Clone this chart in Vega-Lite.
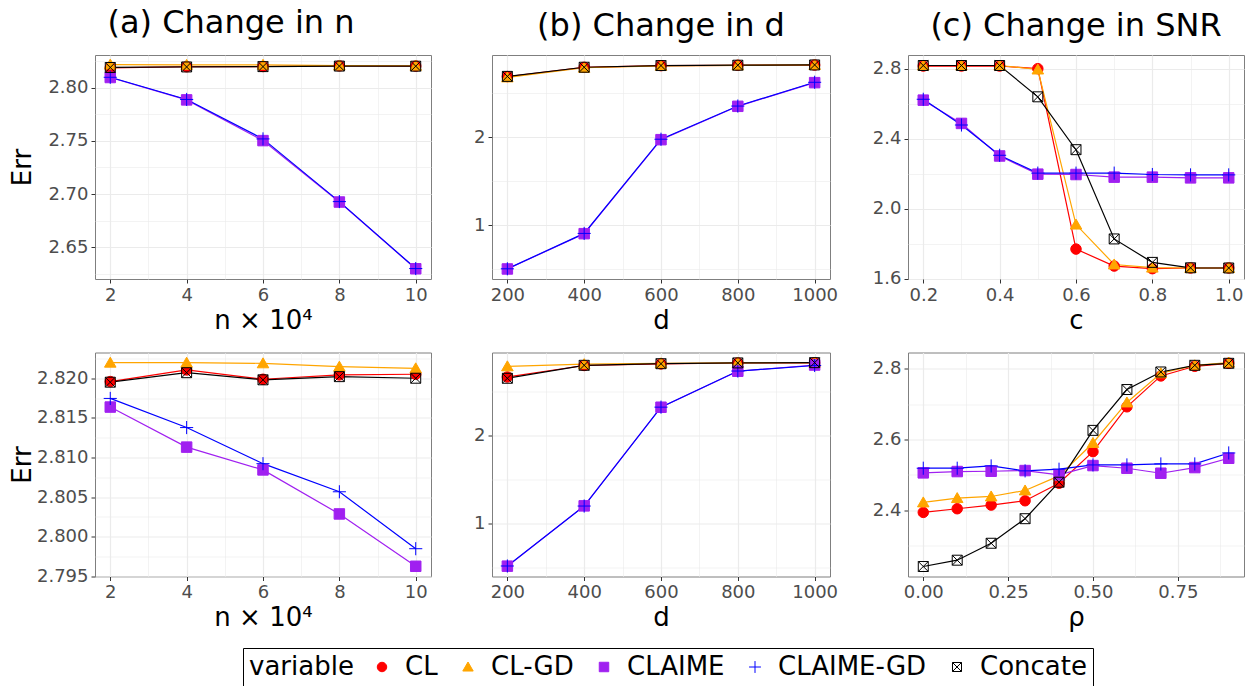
{
  "$schema": "https://vega.github.io/schema/vega-lite/v6.json",
  "background": "white",
  "padding": {"left": 8, "top": 6, "right": 0, "bottom": 0},
  "config": {
    "font": "DejaVu Sans",
    "view": {"stroke": "#7F7F7F", "strokeWidth": 1},
    "axis": {"labelFont": "DejaVu Sans", "labelFontSize": 18, "labelColor": "#4D4D4D", "tickColor": "#333333", "tickSize": 4, "tickWidth": 1, "labelPadding": 3, "domain": false, "gridColor": "#EBEBEB", "titleFont": "DejaVu Sans", "titleFontSize": 26, "titleFontWeight": "normal", "titleColor": "#000000", "labelOverlap": false, "labelFlush": false},
    "title": {"font": "DejaVu Sans", "fontSize": 32, "fontWeight": "normal", "color": "#000000", "baseline": "alphabetic", "offset": 12, "anchor": "middle"},
    "legend": {"titleFont": "DejaVu Sans", "labelFont": "DejaVu Sans", "titleFontSize": 26, "labelFontSize": 26, "titleFontWeight": "normal", "titleColor": "#000000", "labelColor": "#000000", "strokeColor": "#000000", "padding": 6, "symbolSize": 90, "symbolStrokeWidth": 1, "columnPadding": 17, "labelOffset": 10, "titlePadding": 15}
  },
  "datasets": {
    "a1": [
      {"x": 2, "Err": 2.8185, "variable": "CL"}, {"x": 4, "Err": 2.8195, "variable": "CL"}, {"x": 6, "Err": 2.8197, "variable": "CL"}, {"x": 8, "Err": 2.8203, "variable": "CL"}, {"x": 10, "Err": 2.8201, "variable": "CL"},
      {"x": 2, "Err": 2.8215, "variable": "CL-GD"}, {"x": 4, "Err": 2.8212, "variable": "CL-GD"}, {"x": 6, "Err": 2.8213, "variable": "CL-GD"}, {"x": 8, "Err": 2.8206, "variable": "CL-GD"}, {"x": 10, "Err": 2.8204, "variable": "CL-GD"},
      {"x": 2, "Err": 2.8094, "variable": "CLAIME"}, {"x": 4, "Err": 2.7884, "variable": "CLAIME"}, {"x": 6, "Err": 2.7502, "variable": "CLAIME"}, {"x": 8, "Err": 2.6926, "variable": "CLAIME"}, {"x": 10, "Err": 2.6300, "variable": "CLAIME"},
      {"x": 2, "Err": 2.8096, "variable": "CLAIME-GD"}, {"x": 4, "Err": 2.7888, "variable": "CLAIME-GD"}, {"x": 6, "Err": 2.7518, "variable": "CLAIME-GD"}, {"x": 8, "Err": 2.6930, "variable": "CLAIME-GD"}, {"x": 10, "Err": 2.6302, "variable": "CLAIME-GD"},
      {"x": 2, "Err": 2.8188, "variable": "Concate"}, {"x": 4, "Err": 2.8193, "variable": "Concate"}, {"x": 6, "Err": 2.8196, "variable": "Concate"}, {"x": 8, "Err": 2.8201, "variable": "Concate"}, {"x": 10, "Err": 2.8200, "variable": "Concate"}
    ],
    "a2": [
      {"x": 2, "Err": 2.81958, "variable": "CL"}, {"x": 4, "Err": 2.82105, "variable": "CL"}, {"x": 6, "Err": 2.81987, "variable": "CL"}, {"x": 8, "Err": 2.82042, "variable": "CL"}, {"x": 10, "Err": 2.82050, "variable": "CL"},
      {"x": 2, "Err": 2.82196, "variable": "CL-GD"}, {"x": 4, "Err": 2.82196, "variable": "CL-GD"}, {"x": 6, "Err": 2.82188, "variable": "CL-GD"}, {"x": 8, "Err": 2.82146, "variable": "CL-GD"}, {"x": 10, "Err": 2.82125, "variable": "CL-GD"},
      {"x": 2, "Err": 2.81636, "variable": "CLAIME"}, {"x": 4, "Err": 2.81130, "variable": "CLAIME"}, {"x": 6, "Err": 2.80842, "variable": "CLAIME"}, {"x": 8, "Err": 2.80286, "variable": "CLAIME"}, {"x": 10, "Err": 2.79625, "variable": "CLAIME"},
      {"x": 2, "Err": 2.81745, "variable": "CLAIME-GD"}, {"x": 4, "Err": 2.81377, "variable": "CLAIME-GD"}, {"x": 6, "Err": 2.80921, "variable": "CLAIME-GD"}, {"x": 8, "Err": 2.80566, "variable": "CLAIME-GD"}, {"x": 10, "Err": 2.79847, "variable": "CLAIME-GD"},
      {"x": 2, "Err": 2.81950, "variable": "Concate"}, {"x": 4, "Err": 2.82070, "variable": "Concate"}, {"x": 6, "Err": 2.81980, "variable": "Concate"}, {"x": 8, "Err": 2.82020, "variable": "Concate"}, {"x": 10, "Err": 2.82000, "variable": "Concate"}
    ],
    "b1": [
      {"x": 200, "Err": 2.690, "variable": "CL"}, {"x": 400, "Err": 2.795, "variable": "CL"}, {"x": 600, "Err": 2.814, "variable": "CL"}, {"x": 800, "Err": 2.818, "variable": "CL"}, {"x": 1000, "Err": 2.821, "variable": "CL"},
      {"x": 200, "Err": 2.680, "variable": "CL-GD"}, {"x": 400, "Err": 2.790, "variable": "CL-GD"}, {"x": 600, "Err": 2.812, "variable": "CL-GD"}, {"x": 800, "Err": 2.818, "variable": "CL-GD"}, {"x": 1000, "Err": 2.822, "variable": "CL-GD"},
      {"x": 200, "Err": 0.504, "variable": "CLAIME"}, {"x": 400, "Err": 0.905, "variable": "CLAIME"}, {"x": 600, "Err": 1.973, "variable": "CLAIME"}, {"x": 800, "Err": 2.352, "variable": "CLAIME"}, {"x": 1000, "Err": 2.621, "variable": "CLAIME"},
      {"x": 200, "Err": 0.506, "variable": "CLAIME-GD"}, {"x": 400, "Err": 0.908, "variable": "CLAIME-GD"}, {"x": 600, "Err": 1.978, "variable": "CLAIME-GD"}, {"x": 800, "Err": 2.355, "variable": "CLAIME-GD"}, {"x": 1000, "Err": 2.625, "variable": "CLAIME-GD"},
      {"x": 200, "Err": 2.692, "variable": "Concate"}, {"x": 400, "Err": 2.796, "variable": "Concate"}, {"x": 600, "Err": 2.815, "variable": "Concate"}, {"x": 800, "Err": 2.819, "variable": "Concate"}, {"x": 1000, "Err": 2.822, "variable": "Concate"}
    ],
    "b2": [
      {"x": 200, "Err": 2.660, "variable": "CL"}, {"x": 400, "Err": 2.790, "variable": "CL"}, {"x": 600, "Err": 2.808, "variable": "CL"}, {"x": 800, "Err": 2.818, "variable": "CL"}, {"x": 1000, "Err": 2.820, "variable": "CL"},
      {"x": 200, "Err": 2.780, "variable": "CL-GD"}, {"x": 400, "Err": 2.805, "variable": "CL-GD"}, {"x": 600, "Err": 2.815, "variable": "CL-GD"}, {"x": 800, "Err": 2.820, "variable": "CL-GD"}, {"x": 1000, "Err": 2.822, "variable": "CL-GD"},
      {"x": 200, "Err": 0.517, "variable": "CLAIME"}, {"x": 400, "Err": 1.200, "variable": "CLAIME"}, {"x": 600, "Err": 2.317, "variable": "CLAIME"}, {"x": 800, "Err": 2.725, "variable": "CLAIME"}, {"x": 1000, "Err": 2.795, "variable": "CLAIME"},
      {"x": 200, "Err": 0.519, "variable": "CLAIME-GD"}, {"x": 400, "Err": 1.198, "variable": "CLAIME-GD"}, {"x": 600, "Err": 2.318, "variable": "CLAIME-GD"}, {"x": 800, "Err": 2.727, "variable": "CLAIME-GD"}, {"x": 1000, "Err": 2.790, "variable": "CLAIME-GD"},
      {"x": 200, "Err": 2.645, "variable": "Concate"}, {"x": 400, "Err": 2.792, "variable": "Concate"}, {"x": 600, "Err": 2.810, "variable": "Concate"}, {"x": 800, "Err": 2.819, "variable": "Concate"}, {"x": 1000, "Err": 2.822, "variable": "Concate"}
    ],
    "c1": [
      {"x": 0.2, "Err": 2.815, "variable": "CL"}, {"x": 0.3, "Err": 2.815, "variable": "CL"}, {"x": 0.4, "Err": 2.815, "variable": "CL"}, {"x": 0.5, "Err": 2.800, "variable": "CL"}, {"x": 0.6, "Err": 1.769, "variable": "CL"}, {"x": 0.7, "Err": 1.672, "variable": "CL"}, {"x": 0.8, "Err": 1.657, "variable": "CL"}, {"x": 0.9, "Err": 1.661, "variable": "CL"}, {"x": 1.0, "Err": 1.661, "variable": "CL"},
      {"x": 0.2, "Err": 2.818, "variable": "CL-GD"}, {"x": 0.3, "Err": 2.818, "variable": "CL-GD"}, {"x": 0.4, "Err": 2.818, "variable": "CL-GD"}, {"x": 0.5, "Err": 2.795, "variable": "CL-GD"}, {"x": 0.6, "Err": 1.909, "variable": "CL-GD"}, {"x": 0.7, "Err": 1.681, "variable": "CL-GD"}, {"x": 0.8, "Err": 1.663, "variable": "CL-GD"}, {"x": 0.9, "Err": 1.661, "variable": "CL-GD"}, {"x": 1.0, "Err": 1.661, "variable": "CL-GD"},
      {"x": 0.2, "Err": 2.620, "variable": "CLAIME"}, {"x": 0.3, "Err": 2.487, "variable": "CLAIME"}, {"x": 0.4, "Err": 2.301, "variable": "CLAIME"}, {"x": 0.5, "Err": 2.197, "variable": "CLAIME"}, {"x": 0.6, "Err": 2.195, "variable": "CLAIME"}, {"x": 0.7, "Err": 2.180, "variable": "CLAIME"}, {"x": 0.8, "Err": 2.180, "variable": "CLAIME"}, {"x": 0.9, "Err": 2.176, "variable": "CLAIME"}, {"x": 1.0, "Err": 2.176, "variable": "CLAIME"},
      {"x": 0.2, "Err": 2.625, "variable": "CLAIME-GD"}, {"x": 0.3, "Err": 2.478, "variable": "CLAIME-GD"}, {"x": 0.4, "Err": 2.305, "variable": "CLAIME-GD"}, {"x": 0.5, "Err": 2.203, "variable": "CLAIME-GD"}, {"x": 0.6, "Err": 2.203, "variable": "CLAIME-GD"}, {"x": 0.7, "Err": 2.203, "variable": "CLAIME-GD"}, {"x": 0.8, "Err": 2.195, "variable": "CLAIME-GD"}, {"x": 0.9, "Err": 2.193, "variable": "CLAIME-GD"}, {"x": 1.0, "Err": 2.193, "variable": "CLAIME-GD"},
      {"x": 0.2, "Err": 2.818, "variable": "Concate"}, {"x": 0.3, "Err": 2.818, "variable": "Concate"}, {"x": 0.4, "Err": 2.818, "variable": "Concate"}, {"x": 0.5, "Err": 2.639, "variable": "Concate"}, {"x": 0.6, "Err": 2.337, "variable": "Concate"}, {"x": 0.7, "Err": 1.827, "variable": "Concate"}, {"x": 0.8, "Err": 1.693, "variable": "Concate"}, {"x": 0.9, "Err": 1.662, "variable": "Concate"}, {"x": 1.0, "Err": 1.661, "variable": "Concate"}
    ],
    "c2": [
      {"x": 0.0, "Err": 2.3944, "variable": "CL"}, {"x": 0.1, "Err": 2.4047, "variable": "CL"}, {"x": 0.2, "Err": 2.4150, "variable": "CL"}, {"x": 0.3, "Err": 2.4272, "variable": "CL"}, {"x": 0.4, "Err": 2.4768, "variable": "CL"}, {"x": 0.5, "Err": 2.5658, "variable": "CL"}, {"x": 0.6, "Err": 2.6923, "variable": "CL"}, {"x": 0.7, "Err": 2.7794, "variable": "CL"}, {"x": 0.8, "Err": 2.8066, "variable": "CL"}, {"x": 0.9, "Err": 2.8150, "variable": "CL"},
      {"x": 0.0, "Err": 2.4225, "variable": "CL-GD"}, {"x": 0.1, "Err": 2.4347, "variable": "CL-GD"}, {"x": 0.2, "Err": 2.4393, "variable": "CL-GD"}, {"x": 0.3, "Err": 2.4562, "variable": "CL-GD"}, {"x": 0.4, "Err": 2.4974, "variable": "CL-GD"}, {"x": 0.5, "Err": 2.5902, "variable": "CL-GD"}, {"x": 0.6, "Err": 2.7045, "variable": "CL-GD"}, {"x": 0.7, "Err": 2.7869, "variable": "CL-GD"}, {"x": 0.8, "Err": 2.8094, "variable": "CL-GD"}, {"x": 0.9, "Err": 2.8169, "variable": "CL-GD"},
      {"x": 0.0, "Err": 2.5059, "variable": "CLAIME"}, {"x": 0.1, "Err": 2.5096, "variable": "CLAIME"}, {"x": 0.2, "Err": 2.5105, "variable": "CLAIME"}, {"x": 0.3, "Err": 2.5124, "variable": "CLAIME"}, {"x": 0.4, "Err": 2.5002, "variable": "CLAIME"}, {"x": 0.5, "Err": 2.5265, "variable": "CLAIME"}, {"x": 0.6, "Err": 2.5190, "variable": "CLAIME"}, {"x": 0.7, "Err": 2.5049, "variable": "CLAIME"}, {"x": 0.8, "Err": 2.5208, "variable": "CLAIME"}, {"x": 0.9, "Err": 2.5471, "variable": "CLAIME"},
      {"x": 0.0, "Err": 2.5190, "variable": "CLAIME-GD"}, {"x": 0.1, "Err": 2.5190, "variable": "CLAIME-GD"}, {"x": 0.2, "Err": 2.5255, "variable": "CLAIME-GD"}, {"x": 0.3, "Err": 2.5115, "variable": "CLAIME-GD"}, {"x": 0.4, "Err": 2.5162, "variable": "CLAIME-GD"}, {"x": 0.5, "Err": 2.5283, "variable": "CLAIME-GD"}, {"x": 0.6, "Err": 2.5283, "variable": "CLAIME-GD"}, {"x": 0.7, "Err": 2.5311, "variable": "CLAIME-GD"}, {"x": 0.8, "Err": 2.5311, "variable": "CLAIME-GD"}, {"x": 0.9, "Err": 2.5621, "variable": "CLAIME-GD"},
      {"x": 0.0, "Err": 2.2417, "variable": "Concate"}, {"x": 0.1, "Err": 2.2595, "variable": "Concate"}, {"x": 0.2, "Err": 2.3073, "variable": "Concate"}, {"x": 0.3, "Err": 2.3766, "variable": "Concate"}, {"x": 0.4, "Err": 2.4796, "variable": "Concate"}, {"x": 0.5, "Err": 2.6258, "variable": "Concate"}, {"x": 0.6, "Err": 2.7410, "variable": "Concate"}, {"x": 0.7, "Err": 2.7906, "variable": "Concate"}, {"x": 0.8, "Err": 2.8094, "variable": "Concate"}, {"x": 0.9, "Err": 2.8150, "variable": "Concate"}
    ]
  },
  "resolve": {"scale": {"stroke": "shared", "fill": "shared", "shape": "shared", "color": "shared"}},
  "spacing": 14.5,
  "vconcat": [
    {
      "spacing": 20,
      "hconcat": [
        {
          "width": 336, "height": 224,
          "data": {"name": "a1"},
          "title": {"text": "(a) Change in n", "frame": "bounds", "dx": 11},
          "encoding": {
            "x": {"field": "x", "type": "quantitative", "scale": {"domain": [1.6, 10.4], "nice": false, "zero": false},
              "axis": {"values": [2, 3, 4, 5, 6, 7, 8, 9, 10], "labelExpr": "datum.value % 2 != 0 ? '' : format(datum.value, 'd')", "tickOpacity": {"condition": {"test": "datum.value % 2 != 0", "value": 0}, "value": 1}, "gridWidth": {"condition": {"test": "datum.value % 2 != 0", "value": 0.6}, "value": 1.2}, "title": "n × 10⁴", "titlePadding": 3}},
            "y": {"field": "Err", "type": "quantitative", "scale": {"domain": [2.6204, 2.8305], "nice": false, "zero": false},
              "axis": {"values": [2.625, 2.65, 2.675, 2.7, 2.725, 2.75, 2.775, 2.8, 2.825], "labelExpr": "abs(datum.value*20-round(datum.value*20)) > 0.01 ? '' : format(datum.value, '.2f')", "tickOpacity": {"condition": {"test": "abs(datum.value*20-round(datum.value*20)) > 0.01", "value": 0}, "value": 1}, "gridWidth": {"condition": {"test": "abs(datum.value*20-round(datum.value*20)) > 0.01", "value": 0.6}, "value": 1.2}, "title": "Err", "titlePadding": 2, "minExtent": 58, "maxExtent": 58}}
          },
          "layer": [
            {"mark": {"type": "line", "strokeWidth": 1.2}, "encoding": {"color": {"field": "variable", "type": "nominal", "scale": {"range": ["#FF0000", "#FFA500", "#A020F0", "#0000FF", "#000000"]}, "legend": null}}},
            {"mark": {"type": "point", "filled": false, "size": 110, "strokeWidth": 1, "opacity": 1},
              "encoding": {
                "stroke": {"field": "variable", "type": "nominal", "scale": {"domain": ["CL", "CL-GD", "CLAIME", "CLAIME-GD", "Concate"], "range": ["#FF0000", "#FFA500", "#A020F0", "#0000FF", "#000000"]}, "legend": {"title": "variable", "orient": "none", "legendX": 148, "legendY": 593, "direction": "horizontal", "titleOrient": "left"}},
                "fill": {"field": "variable", "type": "nominal", "scale": {"domain": ["CL", "CL-GD", "CLAIME", "CLAIME-GD", "Concate"], "range": ["#FF0000", "#FFA500", "#A020F0", "transparent", "transparent"]}, "legend": {"title": "variable", "orient": "none", "legendX": 148, "legendY": 593, "direction": "horizontal", "titleOrient": "left"}},
                "shape": {"field": "variable", "type": "nominal", "scale": {"domain": ["CL", "CL-GD", "CLAIME", "CLAIME-GD", "Concate"], "range": ["circle", "M0,-1.05L1.1,0.85L-1.1,0.85Z", "square", "M-1.25,0H1.25M0,-1.25V1.25", "M-0.95,-0.95H0.95V0.95H-0.95ZM-0.95,-0.95L0.95,0.95M-0.95,0.95L0.95,-0.95"]}, "legend": {"title": "variable", "orient": "none", "legendX": 148, "legendY": 593, "direction": "horizontal", "titleOrient": "left"}}
              }}
          ]
        },
        {
          "width": 338, "height": 224,
          "data": {"name": "b1"},
          "title": {"text": "(b) Change in d", "frame": "group"},
          "encoding": {
            "x": {"field": "x", "type": "quantitative", "scale": {"domain": [160, 1040], "nice": false, "zero": false},
              "axis": {"values": [200, 300, 400, 500, 600, 700, 800, 900, 1000], "labelExpr": "datum.value % 200 != 0 ? '' : format(datum.value, 'd')", "tickOpacity": {"condition": {"test": "datum.value % 200 != 0", "value": 0}, "value": 1}, "gridWidth": {"condition": {"test": "datum.value % 200 != 0", "value": 0.6}, "value": 1.2}, "title": "d", "titlePadding": 3}},
            "y": {"field": "Err", "type": "quantitative", "scale": {"domain": [0.39, 2.935], "nice": false, "zero": false},
              "axis": {"values": [0.5, 1, 1.5, 2, 2.5], "labelExpr": "abs(datum.value-round(datum.value)) > 0.01 ? '' : format(datum.value, '.0f')", "tickOpacity": {"condition": {"test": "abs(datum.value-round(datum.value)) > 0.01", "value": 0}, "value": 1}, "gridWidth": {"condition": {"test": "abs(datum.value-round(datum.value)) > 0.01", "value": 0.6}, "value": 1.2}, "title": null, "minExtent": 39, "maxExtent": 39}}
          },
          "layer": [
            {"mark": {"type": "line", "strokeWidth": 1.2}, "encoding": {"color": {"field": "variable", "type": "nominal", "scale": {"range": ["#FF0000", "#FFA500", "#A020F0", "#0000FF", "#000000"]}, "legend": null}}},
            {"mark": {"type": "point", "filled": false, "size": 110, "strokeWidth": 1, "opacity": 1},
              "encoding": {
                "stroke": {"field": "variable", "type": "nominal", "scale": {"domain": ["CL", "CL-GD", "CLAIME", "CLAIME-GD", "Concate"], "range": ["#FF0000", "#FFA500", "#A020F0", "#0000FF", "#000000"]}, "legend": {"title": "variable", "orient": "none", "legendX": 148, "legendY": 593, "direction": "horizontal", "titleOrient": "left"}},
                "fill": {"field": "variable", "type": "nominal", "scale": {"domain": ["CL", "CL-GD", "CLAIME", "CLAIME-GD", "Concate"], "range": ["#FF0000", "#FFA500", "#A020F0", "transparent", "transparent"]}, "legend": {"title": "variable", "orient": "none", "legendX": 148, "legendY": 593, "direction": "horizontal", "titleOrient": "left"}},
                "shape": {"field": "variable", "type": "nominal", "scale": {"domain": ["CL", "CL-GD", "CLAIME", "CLAIME-GD", "Concate"], "range": ["circle", "M0,-1.05L1.1,0.85L-1.1,0.85Z", "square", "M-1.25,0H1.25M0,-1.25V1.25", "M-0.95,-0.95H0.95V0.95H-0.95ZM-0.95,-0.95L0.95,0.95M-0.95,0.95L0.95,-0.95"]}, "legend": {"title": "variable", "orient": "none", "legendX": 148, "legendY": 593, "direction": "horizontal", "titleOrient": "left"}}
              }}
          ]
        },
        {
          "width": 336, "height": 224,
          "data": {"name": "c1"},
          "title": {"text": "(c) Change in SNR", "frame": "group"},
          "encoding": {
            "x": {"field": "x", "type": "quantitative", "scale": {"domain": [0.16, 1.04], "nice": false, "zero": false},
              "axis": {"values": [0.2, 0.3, 0.4, 0.5, 0.6, 0.7, 0.8, 0.9, 1.0], "labelExpr": "abs(datum.value*5-round(datum.value*5)) > 0.01 ? '' : format(datum.value, '.1f')", "tickOpacity": {"condition": {"test": "abs(datum.value*5-round(datum.value*5)) > 0.01", "value": 0}, "value": 1}, "gridWidth": {"condition": {"test": "abs(datum.value*5-round(datum.value*5)) > 0.01", "value": 0.6}, "value": 1.2}, "title": "c", "titlePadding": 3}},
            "y": {"field": "Err", "type": "quantitative", "scale": {"domain": [1.598, 2.878], "nice": false, "zero": false},
              "axis": {"values": [1.6, 1.8, 2.0, 2.2, 2.4, 2.6, 2.8], "labelExpr": "abs(datum.value*2.5-round(datum.value*2.5)) > 0.01 ? '' : format(datum.value, '.1f')", "tickOpacity": {"condition": {"test": "abs(datum.value*2.5-round(datum.value*2.5)) > 0.01", "value": 0}, "value": 1}, "gridWidth": {"condition": {"test": "abs(datum.value*2.5-round(datum.value*2.5)) > 0.01", "value": 0.6}, "value": 1.2}, "title": null, "minExtent": 48, "maxExtent": 48}}
          },
          "layer": [
            {"mark": {"type": "line", "strokeWidth": 1.2}, "encoding": {"color": {"field": "variable", "type": "nominal", "scale": {"range": ["#FF0000", "#FFA500", "#A020F0", "#0000FF", "#000000"]}, "legend": null}}},
            {"mark": {"type": "point", "filled": false, "size": 110, "strokeWidth": 1, "opacity": 1},
              "encoding": {
                "stroke": {"field": "variable", "type": "nominal", "scale": {"domain": ["CL", "CL-GD", "CLAIME", "CLAIME-GD", "Concate"], "range": ["#FF0000", "#FFA500", "#A020F0", "#0000FF", "#000000"]}, "legend": {"title": "variable", "orient": "none", "legendX": 148, "legendY": 593, "direction": "horizontal", "titleOrient": "left"}},
                "fill": {"field": "variable", "type": "nominal", "scale": {"domain": ["CL", "CL-GD", "CLAIME", "CLAIME-GD", "Concate"], "range": ["#FF0000", "#FFA500", "#A020F0", "transparent", "transparent"]}, "legend": {"title": "variable", "orient": "none", "legendX": 148, "legendY": 593, "direction": "horizontal", "titleOrient": "left"}},
                "shape": {"field": "variable", "type": "nominal", "scale": {"domain": ["CL", "CL-GD", "CLAIME", "CLAIME-GD", "Concate"], "range": ["circle", "M0,-1.05L1.1,0.85L-1.1,0.85Z", "square", "M-1.25,0H1.25M0,-1.25V1.25", "M-0.95,-0.95H0.95V0.95H-0.95ZM-0.95,-0.95L0.95,0.95M-0.95,0.95L0.95,-0.95"]}, "legend": {"title": "variable", "orient": "none", "legendX": 148, "legendY": 593, "direction": "horizontal", "titleOrient": "left"}}
              }}
          ]
        }
      ]
    },
    {
      "spacing": 20,
      "hconcat": [
        {
          "width": 336, "height": 224,
          "data": {"name": "a2"},
          "encoding": {
            "x": {"field": "x", "type": "quantitative", "scale": {"domain": [1.6, 10.4], "nice": false, "zero": false},
              "axis": {"values": [2, 3, 4, 5, 6, 7, 8, 9, 10], "labelExpr": "datum.value % 2 != 0 ? '' : format(datum.value, 'd')", "tickOpacity": {"condition": {"test": "datum.value % 2 != 0", "value": 0}, "value": 1}, "gridWidth": {"condition": {"test": "datum.value % 2 != 0", "value": 0.6}, "value": 1.2}, "title": "n × 10⁴", "titlePadding": 3}},
            "y": {"field": "Err", "type": "quantitative", "scale": {"domain": [2.79496, 2.82325], "nice": false, "zero": false},
              "axis": {"values": [2.795, 2.7975, 2.8, 2.8025, 2.805, 2.8075, 2.81, 2.8125, 2.815, 2.8175, 2.82, 2.8225], "labelExpr": "abs(datum.value*200-round(datum.value*200)) > 0.01 ? '' : format(datum.value, '.3f')", "tickOpacity": {"condition": {"test": "abs(datum.value*200-round(datum.value*200)) > 0.01", "value": 0}, "value": 1}, "gridWidth": {"condition": {"test": "abs(datum.value*200-round(datum.value*200)) > 0.01", "value": 0.6}, "value": 1.2}, "title": "Err", "titlePadding": 2, "minExtent": 58, "maxExtent": 58}}
          },
          "layer": [
            {"mark": {"type": "line", "strokeWidth": 1.2}, "encoding": {"color": {"field": "variable", "type": "nominal", "scale": {"range": ["#FF0000", "#FFA500", "#A020F0", "#0000FF", "#000000"]}, "legend": null}}},
            {"mark": {"type": "point", "filled": false, "size": 110, "strokeWidth": 1, "opacity": 1},
              "encoding": {
                "stroke": {"field": "variable", "type": "nominal", "scale": {"domain": ["CL", "CL-GD", "CLAIME", "CLAIME-GD", "Concate"], "range": ["#FF0000", "#FFA500", "#A020F0", "#0000FF", "#000000"]}, "legend": {"title": "variable", "orient": "none", "legendX": 148, "legendY": 593, "direction": "horizontal", "titleOrient": "left"}},
                "fill": {"field": "variable", "type": "nominal", "scale": {"domain": ["CL", "CL-GD", "CLAIME", "CLAIME-GD", "Concate"], "range": ["#FF0000", "#FFA500", "#A020F0", "transparent", "transparent"]}, "legend": {"title": "variable", "orient": "none", "legendX": 148, "legendY": 593, "direction": "horizontal", "titleOrient": "left"}},
                "shape": {"field": "variable", "type": "nominal", "scale": {"domain": ["CL", "CL-GD", "CLAIME", "CLAIME-GD", "Concate"], "range": ["circle", "M0,-1.05L1.1,0.85L-1.1,0.85Z", "square", "M-1.25,0H1.25M0,-1.25V1.25", "M-0.95,-0.95H0.95V0.95H-0.95ZM-0.95,-0.95L0.95,0.95M-0.95,0.95L0.95,-0.95"]}, "legend": {"title": "variable", "orient": "none", "legendX": 148, "legendY": 593, "direction": "horizontal", "titleOrient": "left"}}
              }}
          ]
        },
        {
          "width": 338, "height": 224,
          "data": {"name": "b2"},
          "encoding": {
            "x": {"field": "x", "type": "quantitative", "scale": {"domain": [160, 1040], "nice": false, "zero": false},
              "axis": {"values": [200, 300, 400, 500, 600, 700, 800, 900, 1000], "labelExpr": "datum.value % 200 != 0 ? '' : format(datum.value, 'd')", "tickOpacity": {"condition": {"test": "datum.value % 200 != 0", "value": 0}, "value": 1}, "gridWidth": {"condition": {"test": "datum.value % 200 != 0", "value": 0.6}, "value": 1.2}, "title": "d", "titlePadding": 3}},
            "y": {"field": "Err", "type": "quantitative", "scale": {"domain": [0.40, 2.937], "nice": false, "zero": false},
              "axis": {"values": [0.5, 1, 1.5, 2, 2.5], "labelExpr": "abs(datum.value-round(datum.value)) > 0.01 ? '' : format(datum.value, '.0f')", "tickOpacity": {"condition": {"test": "abs(datum.value-round(datum.value)) > 0.01", "value": 0}, "value": 1}, "gridWidth": {"condition": {"test": "abs(datum.value-round(datum.value)) > 0.01", "value": 0.6}, "value": 1.2}, "title": null, "minExtent": 39, "maxExtent": 39}}
          },
          "layer": [
            {"mark": {"type": "line", "strokeWidth": 1.2}, "encoding": {"color": {"field": "variable", "type": "nominal", "scale": {"range": ["#FF0000", "#FFA500", "#A020F0", "#0000FF", "#000000"]}, "legend": null}}},
            {"mark": {"type": "point", "filled": false, "size": 110, "strokeWidth": 1, "opacity": 1},
              "encoding": {
                "stroke": {"field": "variable", "type": "nominal", "scale": {"domain": ["CL", "CL-GD", "CLAIME", "CLAIME-GD", "Concate"], "range": ["#FF0000", "#FFA500", "#A020F0", "#0000FF", "#000000"]}, "legend": {"title": "variable", "orient": "none", "legendX": 148, "legendY": 593, "direction": "horizontal", "titleOrient": "left"}},
                "fill": {"field": "variable", "type": "nominal", "scale": {"domain": ["CL", "CL-GD", "CLAIME", "CLAIME-GD", "Concate"], "range": ["#FF0000", "#FFA500", "#A020F0", "transparent", "transparent"]}, "legend": {"title": "variable", "orient": "none", "legendX": 148, "legendY": 593, "direction": "horizontal", "titleOrient": "left"}},
                "shape": {"field": "variable", "type": "nominal", "scale": {"domain": ["CL", "CL-GD", "CLAIME", "CLAIME-GD", "Concate"], "range": ["circle", "M0,-1.05L1.1,0.85L-1.1,0.85Z", "square", "M-1.25,0H1.25M0,-1.25V1.25", "M-0.95,-0.95H0.95V0.95H-0.95ZM-0.95,-0.95L0.95,0.95M-0.95,0.95L0.95,-0.95"]}, "legend": {"title": "variable", "orient": "none", "legendX": 148, "legendY": 593, "direction": "horizontal", "titleOrient": "left"}}
              }}
          ]
        },
        {
          "width": 336, "height": 224,
          "data": {"name": "c2"},
          "encoding": {
            "x": {"field": "x", "type": "quantitative", "scale": {"domain": [-0.045, 0.945], "nice": false, "zero": false},
              "axis": {"values": [0, 0.125, 0.25, 0.375, 0.5, 0.625, 0.75, 0.875], "labelExpr": "abs(datum.value*4-round(datum.value*4)) > 0.01 ? '' : format(datum.value, '.2f')", "tickOpacity": {"condition": {"test": "abs(datum.value*4-round(datum.value*4)) > 0.01", "value": 0}, "value": 1}, "gridWidth": {"condition": {"test": "abs(datum.value*4-round(datum.value*4)) > 0.01", "value": 0.6}, "value": 1.2}, "title": "ρ", "titlePadding": 3}},
            "y": {"field": "Err", "type": "quantitative", "scale": {"domain": [2.2135, 2.8455], "nice": false, "zero": false},
              "axis": {"values": [2.3, 2.4, 2.5, 2.6, 2.7, 2.8], "labelExpr": "abs(datum.value*5-round(datum.value*5)) > 0.01 ? '' : format(datum.value, '.1f')", "tickOpacity": {"condition": {"test": "abs(datum.value*5-round(datum.value*5)) > 0.01", "value": 0}, "value": 1}, "gridWidth": {"condition": {"test": "abs(datum.value*5-round(datum.value*5)) > 0.01", "value": 0.6}, "value": 1.2}, "title": null, "minExtent": 48, "maxExtent": 48}}
          },
          "layer": [
            {"mark": {"type": "line", "strokeWidth": 1.2}, "encoding": {"color": {"field": "variable", "type": "nominal", "scale": {"range": ["#FF0000", "#FFA500", "#A020F0", "#0000FF", "#000000"]}, "legend": null}}},
            {"mark": {"type": "point", "filled": false, "size": 110, "strokeWidth": 1, "opacity": 1},
              "encoding": {
                "stroke": {"field": "variable", "type": "nominal", "scale": {"domain": ["CL", "CL-GD", "CLAIME", "CLAIME-GD", "Concate"], "range": ["#FF0000", "#FFA500", "#A020F0", "#0000FF", "#000000"]}, "legend": {"title": "variable", "orient": "none", "legendX": 148, "legendY": 593, "direction": "horizontal", "titleOrient": "left"}},
                "fill": {"field": "variable", "type": "nominal", "scale": {"domain": ["CL", "CL-GD", "CLAIME", "CLAIME-GD", "Concate"], "range": ["#FF0000", "#FFA500", "#A020F0", "transparent", "transparent"]}, "legend": {"title": "variable", "orient": "none", "legendX": 148, "legendY": 593, "direction": "horizontal", "titleOrient": "left"}},
                "shape": {"field": "variable", "type": "nominal", "scale": {"domain": ["CL", "CL-GD", "CLAIME", "CLAIME-GD", "Concate"], "range": ["circle", "M0,-1.05L1.1,0.85L-1.1,0.85Z", "square", "M-1.25,0H1.25M0,-1.25V1.25", "M-0.95,-0.95H0.95V0.95H-0.95ZM-0.95,-0.95L0.95,0.95M-0.95,0.95L0.95,-0.95"]}, "legend": {"title": "variable", "orient": "none", "legendX": 148, "legendY": 593, "direction": "horizontal", "titleOrient": "left"}}
              }}
          ]
        }
      ]
    }
  ]
}
